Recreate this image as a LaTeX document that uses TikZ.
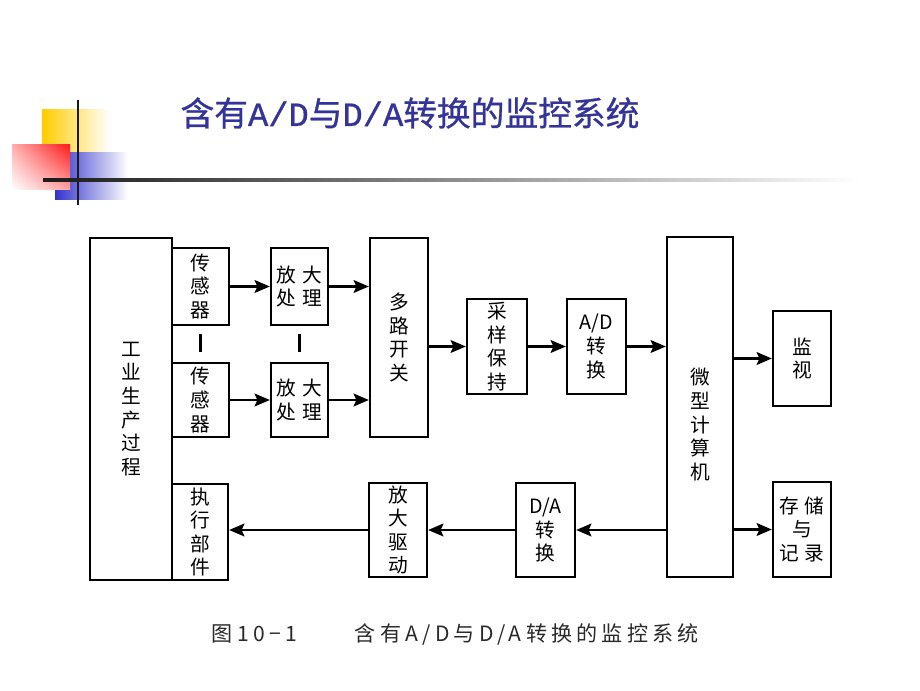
\documentclass[tikz,border=0pt]{standalone}
\usepackage{fontspec}
\setmainfont{Noto Sans CJK SC}
\newfontfamily\titlefont[FakeBold=0.8]{Noto Sans CJK SC}
\newfontfamily\titlelatin[FakeBold=0.8]{Liberation Mono}
\newfontfamily\capfont[LetterSpace=20]{Noto Sans CJK SC}
\usepackage{tikz}
\usetikzlibrary{arrows.meta, positioning, calc, shadings}
\definecolor{titleblue}{HTML}{333399}
\definecolor{decoyellow}{HTML}{FFCC00}
\definecolor{decored}{HTML}{FF1A1A}
\definecolor{decoblue}{HTML}{3333CC}
\definecolor{linedark}{HTML}{1A1A1A}
\definecolor{captiongray}{HTML}{2A2A2A}
\tikzset{
  blk/.style={draw, line width=1.7pt, align=center, inner sep=0pt,
    font=\fontsize{14}{16.8}\selectfont},
  flow/.style={-{Stealth[length=3.8mm,width=3.2mm,inset=0.7mm]}, line width=1.6pt},
  divider/.style={line width=1.6pt, shorten <=0.2cm, shorten >=0.25cm}
}

\begin{document}
\begin{tikzpicture}
  \fill[white] (0,0) rectangle (23,17.25);
  \useasboundingbox (0,0) rectangle (23,17.25);

  % Corner decoration
  \shade[left color=decoyellow, middle color=decoyellow, right color=white] (1.05,14.5) rectangle (2.75,13.425);
  \shade[left color=decoblue, middle color=decoblue, right color=white] (1.375,13.425) rectangle (3.2,12.25);
  \shade[upper right=decored, upper left=decored!35, lower left=white, lower right=decored!40] (0.3,13.625) rectangle (1.75,12.5);
  \draw[line width=2pt, linedark] (1.95,14.75) -- (1.95,12.125);
  \shade[left color=linedark, right color=white] (1.075,12.79) rectangle (21.5,12.71);

  % Title
  \node[font=\titlefont\fontsize{24}{28}\selectfont, text=titleblue] (title) at (10.25,14.425)
    {含有{\titlelatin A/D}与{\titlelatin D/A}转换的监控系统};

  % Process and sensors
  \node[blk, minimum width=2.05cm, minimum height=8.55cm] (proc) at (3.275,7.025) {工\\业\\生\\产\\过\\程};
  \node[blk, minimum width=1.425cm, minimum height=1.925cm] (sens1) at (5.0125,10.0875) {传\\感\\器};
  \node[blk, minimum width=1.425cm, minimum height=1.85cm] (sens2) at (5.0125,7.25) {传\\感\\器};
  \node[blk, minimum width=1.4cm, minimum height=2.4cm] (exec) at (5.0,3.95) {执\\行\\部\\件};

  % Amplifiers
  \node[blk, minimum width=1.425cm, minimum height=1.925cm] (amp1) at (7.4875,10.0875) {放\hspace{0.15cm}大\\处\hspace{0.15cm}理};
  \node[blk, minimum width=1.425cm, minimum height=1.85cm] (amp2) at (7.4875,7.25) {放\hspace{0.15cm}大\\处\hspace{0.15cm}理};

  % Acquisition chain
  \node[blk, minimum width=1.45cm, minimum height=4.975cm] (mux) at (9.975,8.8125) {多\\路\\开\\关};
  \node[blk, minimum width=1.5cm, minimum height=2.375cm] (sh) at (12.425,8.5875) {采\\样\\保\\持};
  \node[blk, minimum width=1.475cm, minimum height=2.375cm] (adc) at (14.9125,8.5875) {A/D\\转\\换};

  % Computer and outputs
  \node[blk, minimum width=1.65cm, minimum height=8.5cm] (cpu) at (17.5,7.075) {\rule{0pt}{1.3cm}微\\型\\计\\算\\机};
  \node[blk, minimum width=1.45cm, minimum height=2.375cm] (mon) at (20.05,8.2875) {监\\视};
  \node[blk, minimum width=1.45cm, minimum height=2.375cm] (rec) at (20.05,4.0125) {存\hspace{0.15cm}储\\与\\记\hspace{0.15cm}录};

  % Output chain
  \node[blk, minimum width=1.475cm, minimum height=2.35cm] (dac) at (13.6375,4.0) {D/A\\转\\换};
  \node[blk, minimum width=1.45cm, minimum height=2.35cm] (drv) at (9.95,4.0) {放\\大\\驱\\动};

  % Caption
  \node[font=\capfont\fontsize{15}{17}\selectfont, text=captiongray, anchor=west] (fignum) at (5.175,1.4) {图10−1};
  \node[font=\capfont\fontsize{15}{17}\selectfont, text=captiongray, anchor=west] (figcap) at (8.75,1.4) {含有A/D与D/A转换的监控系统};

  % Dividers
  \draw[divider] (sens1) -- (sens2);
  \draw[divider] (amp1) -- (amp2);

  % Signal flow
  \draw[flow] (sens1) -- (amp1);
  \draw[flow] (sens2) -- (amp2);
  \draw[flow] (amp1.east) -- (amp1.east -| mux.west);
  \draw[flow] (amp2.east) -- (amp2.east -| mux.west);
  \draw[flow] (mux.east |- sh.west) -- (sh.west);
  \draw[flow] (sh) -- (adc);
  \draw[flow] (adc.east) -- (adc.east -| cpu.west);
  \draw[flow] (mon.west -| cpu.east) -- (mon.west);
  \draw[flow] (rec.west -| cpu.east) -- (rec.west);
  \draw[flow] (dac.east -| cpu.west) -- (dac.east);
  \draw[flow] (dac) -- (drv);
  \draw[flow] (drv.west) -- (drv.west -| exec.east);
\end{tikzpicture}
\end{document}
